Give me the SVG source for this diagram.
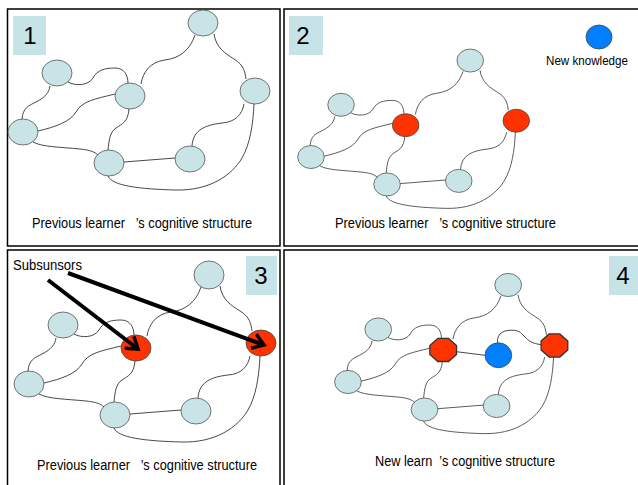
<svg xmlns="http://www.w3.org/2000/svg" width="638" height="485" viewBox="0 0 638 485">
<style>
.frame{fill:#fff;stroke:#000;stroke-width:1.5}
.lbl{fill:#c6e3e7}
.num{font-family:"Liberation Sans",Arial,sans-serif;font-size:24px;fill:#000;text-anchor:middle}
.cap{font-family:"Liberation Sans",Arial,sans-serif;font-size:14px;fill:#000}
.small{font-family:"Liberation Sans",Arial,sans-serif;font-size:12.5px;fill:#000}
.edge{fill:none;stroke:#333;stroke-width:0.9;vector-effect:non-scaling-stroke}
.n{fill:#c9e4e7;stroke:#555;stroke-width:0.8;vector-effect:non-scaling-stroke}
.r{fill:#ff3300;stroke:#444;stroke-width:0.8;vector-effect:non-scaling-stroke}
.r8{fill:#ff3300;stroke:#333;stroke-width:1.3;vector-effect:non-scaling-stroke}
.b{fill:#0080ff;stroke:#444;stroke-width:0.8;vector-effect:non-scaling-stroke}
.arrow{fill:none;stroke:#000;stroke-width:4}
</style>
<defs>
<marker id="chev" markerUnits="userSpaceOnUse" viewBox="0 0 20 20" markerWidth="20" markerHeight="20" refX="15" refY="10" orient="auto">
<path d="M4 2.5 L15 10 L4 17.5" fill="none" stroke="#000" stroke-width="3.5"/>
</marker>
<g id="baseEdges">
<path d="M 68 82 C 75 86, 88 86, 93 78 C 97 70, 105 68, 115 68 C 124 68, 128 75, 128 83"/>
<path d="M 22 119 C 23 108, 28 106, 36 102 C 46 97, 49 92, 50 86"/>
<path d="M 38 131 C 55 127, 70 122, 76 112 C 82 101, 95 99, 115 94"/>
<path d="M 33 142 C 42 147, 60 147, 80 149 C 90 150, 95 152, 98 155"/>
<path d="M 129 109 C 128 122, 122 124, 116 128 C 110 132, 109 140, 108 150"/>
<path d="M 141 84 C 143 72, 150 62, 165 60 C 180 58, 190 50, 195 35"/>
<path d="M 214 34 C 216 48, 226 54, 234 59 C 244 65, 245 72, 246 79"/>
<path d="M 244 104 C 242 115, 235 122, 222 123 C 205 125, 193 130, 192 146"/>
<path d="M 124 162 L 175 158"/>
<path d="M 108 176 C 112 186, 140 189, 175 190 C 210 191, 232 175, 242 158 C 250 144, 253 125, 254 104"/>
</g>
</defs>

<!-- frames -->
<rect class="frame" x="7.5" y="9" width="272.5" height="237"/>
<rect class="frame" x="284" y="9" width="360" height="237"/>
<rect class="frame" x="7.5" y="250" width="272.5" height="240"/>
<rect class="frame" x="284" y="250" width="360" height="240"/>

<!-- panel labels -->
<g id="label1"><rect class="lbl" x="13" y="16" width="33" height="39"/><text class="num" x="30" y="44">1</text></g>
<g id="label2"><rect class="lbl" x="289" y="16" width="34" height="39"/><text class="num" x="303" y="44">2</text></g>
<g id="label3"><rect class="lbl" x="246" y="256" width="31" height="39"/><text class="num" x="261" y="284">3</text></g>
<g id="label4"><rect class="lbl" x="609" y="256" width="31" height="39"/><text class="num" x="623" y="284">4</text></g>

<!-- panel 1 nodes -->
<g id="panel1">
<g id="p1-a"><ellipse class="n" cx="203" cy="23" rx="15" ry="13"/></g>
<g id="p1-b"><ellipse class="n" cx="57" cy="73" rx="15" ry="13"/></g>
<g id="p1-c"><ellipse class="n" cx="130" cy="96" rx="15" ry="13"/></g>
<g id="p1-d"><ellipse class="n" cx="255" cy="91" rx="15" ry="13"/></g>
<g id="p1-e"><ellipse class="n" cx="23" cy="132" rx="15" ry="13"/></g>
<g id="p1-f"><ellipse class="n" cx="109" cy="163" rx="15" ry="13"/></g>
<g id="p1-g"><ellipse class="n" cx="190" cy="159" rx="15" ry="13"/></g>
</g>

<!-- panel 2 nodes -->
<g id="panel2" transform="translate(290.6,40.2) scale(0.885)">
<g id="p2-a"><ellipse class="n" cx="203" cy="23" rx="15" ry="13"/></g>
<g id="p2-b"><ellipse class="n" cx="57" cy="73" rx="15" ry="13"/></g>
<g id="p2-c"><ellipse class="r" cx="130" cy="96" rx="15" ry="13"/></g>
<g id="p2-d"><ellipse class="r" cx="255" cy="91" rx="15" ry="13"/></g>
<g id="p2-e"><ellipse class="n" cx="23" cy="132" rx="15" ry="13"/></g>
<g id="p2-f"><ellipse class="n" cx="109" cy="163" rx="15" ry="13"/></g>
<g id="p2-g"><ellipse class="n" cx="190" cy="159" rx="15" ry="13"/></g>
</g>
<g id="new-knowledge"><ellipse class="b" cx="599" cy="37" rx="13" ry="12"/></g>

<!-- panel 3 nodes -->
<g id="panel3" transform="translate(6,252)">
<g id="p3-a"><ellipse class="n" cx="203" cy="23" rx="15" ry="14"/></g>
<g id="p3-b"><ellipse class="n" cx="57" cy="73" rx="15" ry="13"/></g>
<g id="p3-c"><ellipse class="r" cx="130" cy="96" rx="15" ry="13"/></g>
<g id="p3-d"><ellipse class="r" cx="255" cy="91" rx="15" ry="13"/></g>
<g id="p3-e"><ellipse class="n" cx="23" cy="132" rx="15" ry="13"/></g>
<g id="p3-f"><ellipse class="n" cx="109" cy="163" rx="15" ry="13"/></g>
<g id="p3-g"><ellipse class="n" cx="190" cy="159" rx="15" ry="13"/></g>
</g>

<!-- panel 4 nodes -->
<g id="panel4" transform="translate(327.5,264.5) scale(0.89)">
<g id="p4-a"><ellipse class="n" cx="203" cy="23" rx="15" ry="13"/></g>
<g id="p4-b"><ellipse class="n" cx="57" cy="73" rx="15" ry="13"/></g>
<g id="p4-c"><polygon class="r8" points="124,83 136,83 145,91 145,101 136,109 124,109 115,101 115,91"/></g>
<g id="p4-new"><ellipse class="b" cx="192" cy="102" rx="15" ry="14"/></g>
<g id="p4-d"><polygon class="r8" points="249,78 261,78 270,86 270,96 261,104 249,104 240,96 240,86"/></g>
<g id="p4-e"><ellipse class="n" cx="23" cy="132" rx="15" ry="13"/></g>
<g id="p4-f"><ellipse class="n" cx="109" cy="163" rx="15" ry="13"/></g>
<g id="p4-g"><ellipse class="n" cx="190" cy="159" rx="15" ry="13"/></g>
</g>

<!-- connectors -->
<g id="connectors">
<use href="#baseEdges" class="edge"/>
<use href="#baseEdges" class="edge" transform="translate(290.6,40.2) scale(0.885)"/>
<use href="#baseEdges" class="edge" transform="translate(6,252)"/>
<g transform="translate(327.5,264.5) scale(0.89)">
<use href="#baseEdges" class="edge"/>
<path class="edge" d="M 145 98 L 177 102"/>
<path class="edge" d="M 191 88 C 190 76, 200 73, 210 74 C 222 75, 220 88, 240 90"/>
</g>
<line class="arrow" x1="48" y1="280" x2="138" y2="349" marker-end="url(#chev)"/>
<line class="arrow" x1="68" y1="273" x2="264" y2="345" marker-end="url(#chev)"/>
</g>

<!-- texts -->
<text class="cap" x="32" y="228" textLength="220" lengthAdjust="spacingAndGlyphs" xml:space="preserve">Previous learner   ’s cognitive structure</text>
<text class="cap" x="335" y="228" textLength="221" lengthAdjust="spacingAndGlyphs" xml:space="preserve">Previous learner   ’s cognitive structure</text>
<text class="cap" x="37" y="470" textLength="220" lengthAdjust="spacingAndGlyphs" xml:space="preserve">Previous learner   ’s cognitive structure</text>
<text class="cap" x="375" y="466" textLength="180" lengthAdjust="spacingAndGlyphs" xml:space="preserve">New learn  ’s cognitive structure</text>
<text class="small" x="546" y="65" textLength="82" lengthAdjust="spacingAndGlyphs">New knowledge</text>
<text class="cap" x="13" y="270" textLength="69" lengthAdjust="spacingAndGlyphs">Subsunsors</text>
</svg>
